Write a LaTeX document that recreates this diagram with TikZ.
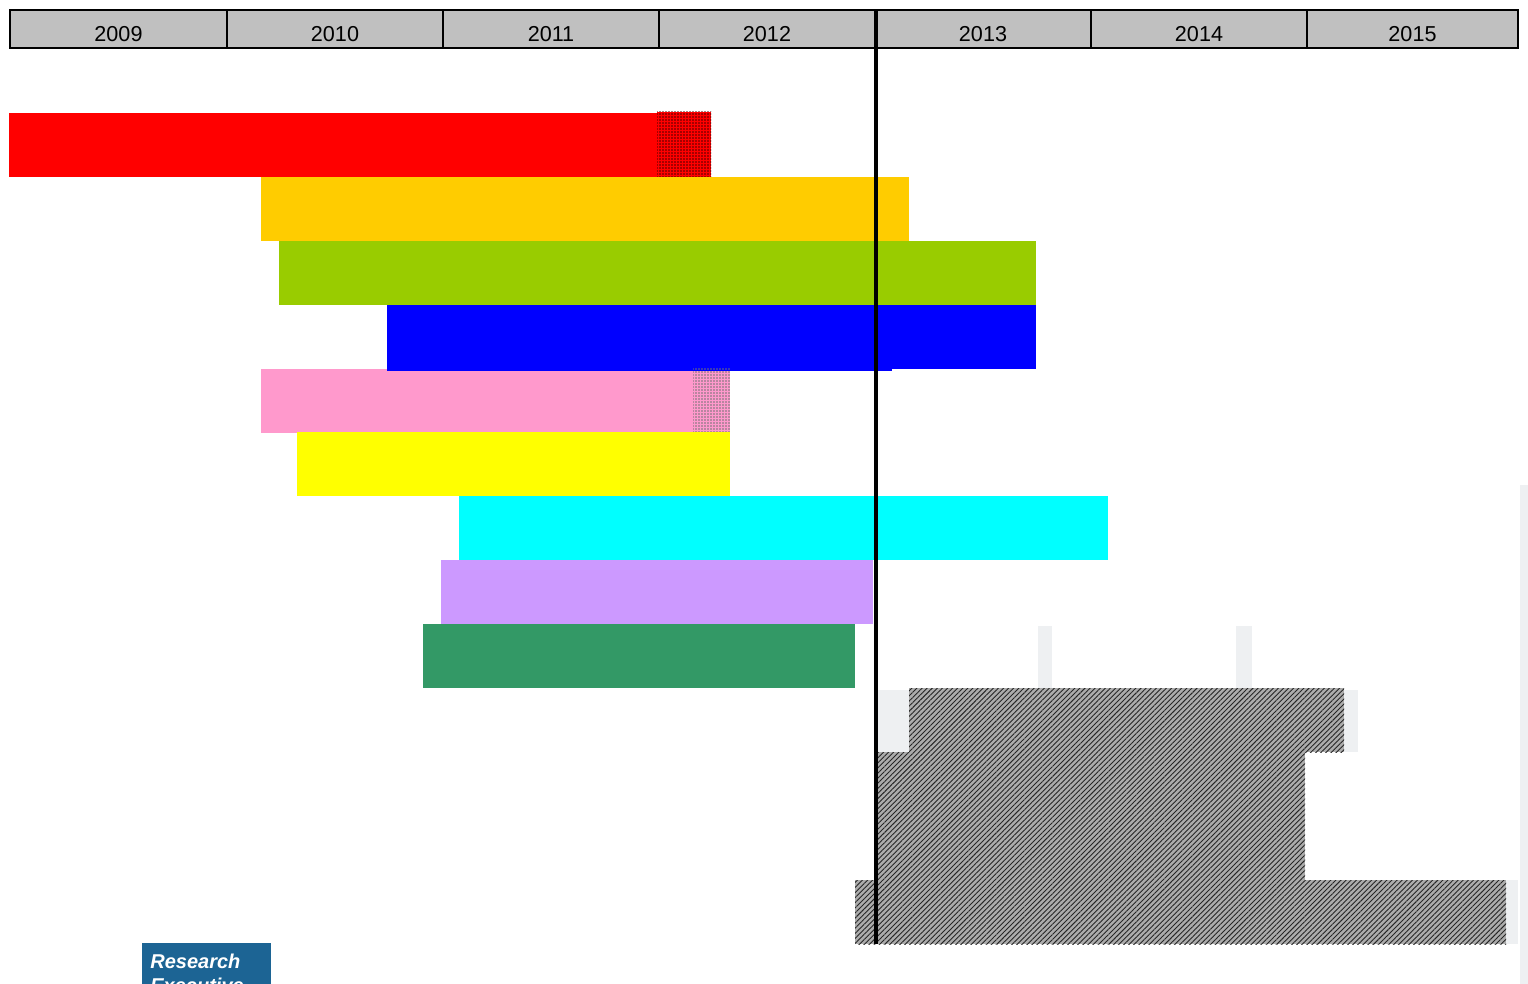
\documentclass[tikz,border=0pt]{standalone}
\usepackage{fontspec}
\setmainfont{Liberation Sans}
\usetikzlibrary{patterns.meta}
\definecolor{amber}{HTML}{FFCC00}
\definecolor{leaf}{HTML}{99CC00}
\definecolor{rose}{HTML}{FF99CC}
\definecolor{lemon}{HTML}{FFFF00}
\definecolor{aqua}{HTML}{00FFFF}
\definecolor{lilac}{HTML}{CC99FF}
\definecolor{seagreen}{HTML}{339966}
\definecolor{headgray}{HTML}{C0C0C0}
\definecolor{logoblue}{HTML}{1C6494}
\definecolor{ghost}{HTML}{EEF0F2}
\begin{document}
\begin{tikzpicture}[x=.5pt,y=-.5pt,font=\fontsize{10.8}{13}\selectfont,
  hatch/.style={pattern={Lines[angle=45,distance=1.8pt,line width=.45pt]},pattern color=black!85},
  dots/.style={pattern={Dots[radius=.4pt,distance=1.5pt]},pattern color=#1}]
\useasboundingbox (0,0) rectangle (1528,984);
% faint background leftovers
\fill[ghost] (1520,485) rectangle (1528,984);
\fill[ghost] (1038,626) rectangle (1052,688);
\fill[ghost] (1236,626) rectangle (1252,688);
\fill[ghost] (878,690) rectangle (909,752);
\fill[ghost] (1344,690) rectangle (1358,752);
\fill[ghost] (1506,880) rectangle (1518,944);
% year header
\foreach \xa/\xb/\yr in {10/227/2009,227/443/2010,443/659/2011,659/875/2012,875/1091/2013,1091/1307/2014,1307/1518/2015}{
\draw[fill=headgray,line width=1.2pt] (\xa,10) rectangle (\xb,48);
\node[anchor=base,inner sep=0] at ({(\xa+\xb)/2},42) {\yr};}
% bars
\foreach \xa/\xb/\ya/\col in {9/711/113/red,261/909/177/amber,279/1036/241/leaf,387/1036/305/blue,261/730/369/rose,297/730/432/lemon,459/1108/496/aqua,441/873/560/lilac,423/855/624/seagreen}{
\fill[\col] (\xa,\ya) rectangle (\xb,\ya+64);}
\fill[blue] (387,369) rectangle (892,371);
\fill[red] (657,112) rectangle (711,177);
\fill[dots=black!70!red] (657,112) rectangle (711,177);
\fill[dots=black!55] (693,369) rectangle (730,432);
% hatched bars
\foreach \xa/\xb/\ya/\yb in {909/1344/688/752,878/1305/752/880,855/1506/880/944}{
\fill[gray!65] (\xa,\ya) rectangle (\xb,\yb);
\fill[hatch] (\xa,\ya) rectangle (\xb,\yb);}
% today line
\draw[line width=2pt] (876,10) -- (876,944);
% logo
\begin{scope}
\clip (0,0) rectangle (1528,984);
\fill[logoblue] (142,943) rectangle (271,1000);
\node[anchor=base west,text=white,font=\fontsize{10}{12}\selectfont\bfseries\itshape,inner sep=0] at (150,968) {Research};
\node[anchor=base west,text=white,font=\fontsize{10}{12}\selectfont\bfseries\itshape,inner sep=0] at (150,992) {Executive};
\end{scope}
\end{tikzpicture}
\end{document}
